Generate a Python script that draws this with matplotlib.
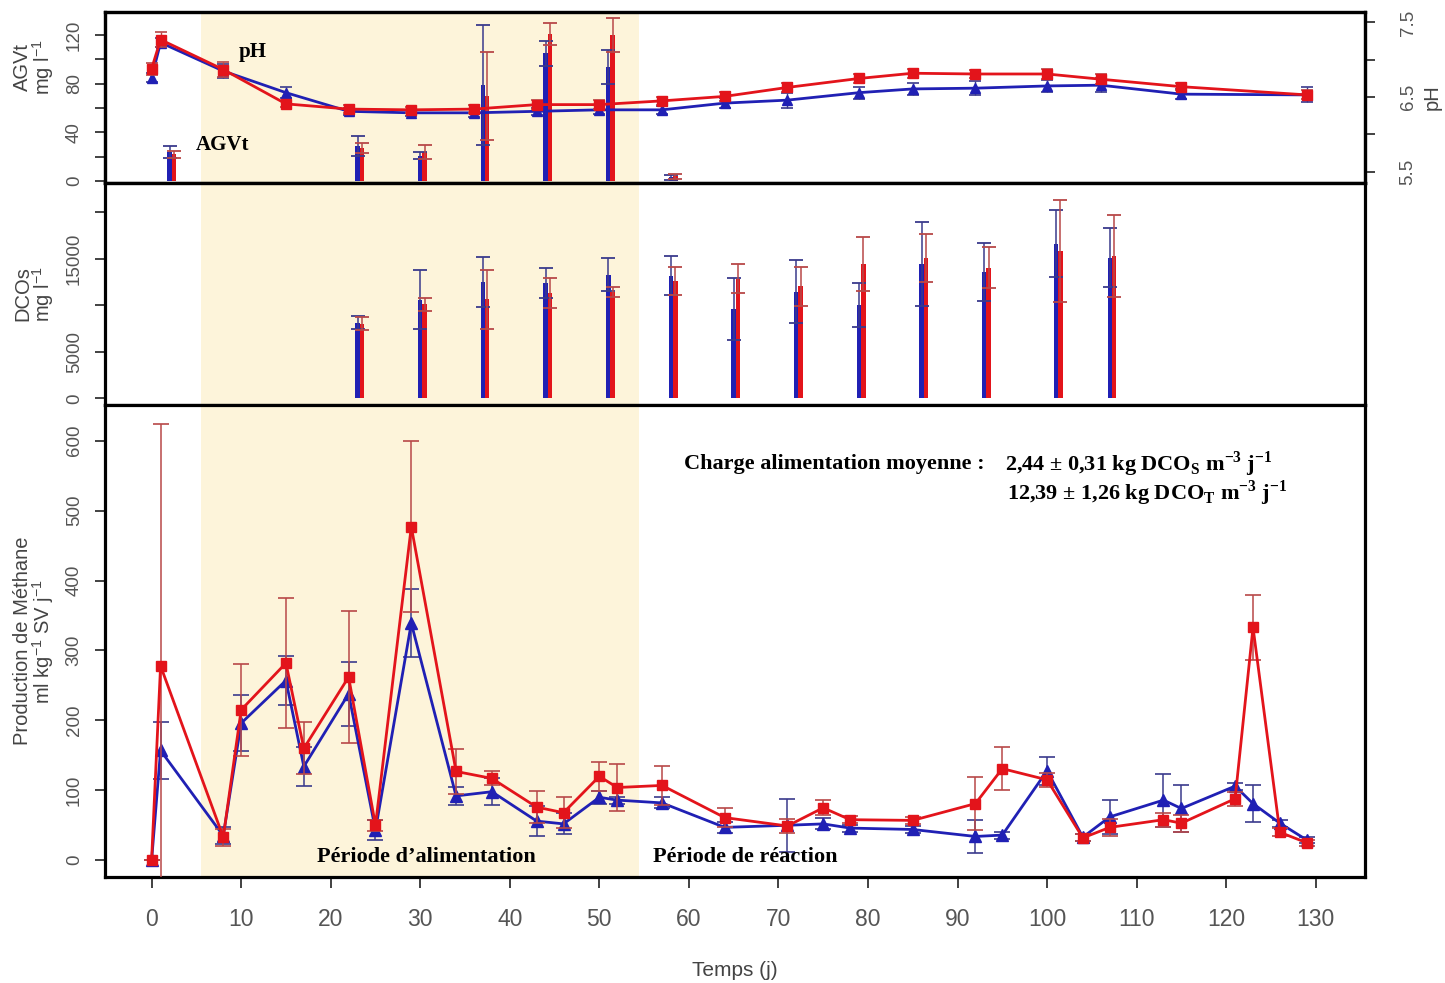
import matplotlib
matplotlib.use('Agg')
import matplotlib.pyplot as plt

plt.rcParams['font.family'] = ['Liberation Sans', 'DejaVu Sans']
plt.rcParams['mathtext.fontset'] = 'custom'
plt.rcParams['mathtext.rm'] = 'Liberation Sans'
plt.rcParams['mathtext.it'] = 'Liberation Sans:italic'
plt.rcParams['mathtext.bf'] = 'Liberation Serif:bold'

# ---------------- data ----------------
# pH (right axis, top panel)
ph_t = [0, 1, 8, 15, 22, 29, 36, 43, 50, 57, 64, 71, 79, 85, 92, 100, 106, 115, 129]
ph_red = [6.88, 7.27, 6.87, 6.41, 6.34, 6.33, 6.34, 6.40, 6.40, 6.45, 6.51, 6.63, 6.75, 6.82, 6.81, 6.81, 6.74, 6.64, 6.53]
ph_red_err = [0.08, 0.10, 0.10, 0.04, 0.05, 0.04, 0.05, 0.06, 0.06, 0.05, 0.06, 0.06, 0.06, 0.06, 0.06, 0.07, 0.07, 0.05, 0.06]
ph_blue = [6.76, 7.23, 6.85, 6.56, 6.31, 6.29, 6.29, 6.31, 6.33, 6.33, 6.42, 6.46, 6.56, 6.61, 6.62, 6.65, 6.66, 6.54, 6.53]
ph_blue_err = [0.06, 0.06, 0.10, 0.07, 0.05, 0.04, 0.05, 0.05, 0.06, 0.05, 0.07, 0.10, 0.08, 0.08, 0.09, 0.08, 0.09, 0.07, 0.10]

# AGVt bars (left axis, top panel)
agv_t = [2, 23, 30, 37, 44, 51, 58]
agv_blue = [24, 29, 21, 79, 105, 94, 3]
agv_blue_err = [5, 8, 3, 49, 10, 14, 2]
agv_red = [22, 27, 24, 70, 121, 120, 4]
agv_red_err = [3, 4, 6, 36, 9, 14, 2]

# DCOs bars (middle panel)
dco_t = [23, 30, 37, 44, 51, 58, 65, 72, 79, 86, 93, 101, 107]
dco_blue = [8100, 10600, 12500, 12400, 13300, 13200, 9600, 11450, 10030, 14450, 13560, 16630, 15100]
dco_blue_err = [700, 3200, 2700, 1600, 1800, 2050, 3300, 3400, 2330, 4500, 3100, 3620, 3170]
dco_red = [8000, 10100, 10650, 11300, 11400, 12650, 12850, 12050, 14430, 15100, 14030, 15820, 15280]
dco_red_err = [700, 700, 3200, 1600, 550, 1500, 1550, 2100, 2900, 2550, 2200, 5500, 4420]

# Methane production (bottom panel)
ch4_t = [0, 1, 8, 10, 15, 17, 22, 25, 29, 34, 38, 43, 46, 50, 52, 57, 64, 71, 75, 78,
         85, 92, 95, 100, 104, 107, 113, 115, 121, 123, 126, 129]
ch4_red = [1, 278, 33, 215, 282, 160, 262, 50, 477, 127, 117, 76, 68, 120, 104, 107, 61, 49, 75, 58,
           57, 81, 131, 115, 32, 47, 58, 53, 88, 333, 40, 25]
ch4_red_err = [0, 346, 12, 66, 93, 37, 95, 8, 122, 32, 10, 23, 22, 21, 33, 28, 14, 10, 11, 5,
               5, 38, 31, 10, 5, 12, 10, 12, 10, 46, 6, 4]
ch4_blue = [0, 157, 35, 196, 257, 134, 238, 43, 339, 92, 98, 56, 52, 90, 86, 82, 47, 50, 52, 46,
            44, 34, 36, 128, 33, 62, 86, 74, 106, 81, 53, 29]
ch4_blue_err = [0, 41, 12, 40, 35, 28, 46, 14, 49, 13, 19, 22, 15, 9, 5, 8, 8, 38, 8, 5,
                5, 24, 5, 20, 5, 24, 38, 33, 5, 27, 5, 4]

feed_period = (5.5, 54.4)
x_ticks = list(range(0, 131, 10))

# ---------------- style ----------------
RED = '#E3141B'
BLUE = '#2020B4'
RED_E = '#B84848'
BLUE_E = '#3A3A8C'
SHADE = '#FDF4DA'
SPINE_LW = 2.3
BAR_OFF = 0.48
BAR_W = 0.5
TXT = '#444444'

fig = plt.figure(figsize=(14.45, 9.83), dpi=100)
L, W = 0.0727, 0.8719
ax_top = fig.add_axes([L, 0.8138, W, 0.1740])
ax_mid = fig.add_axes([L, 0.5880, W, 0.2258])
ax_bot = fig.add_axes([L, 0.1078, W, 0.4802])

for ax in (ax_top, ax_mid, ax_bot):
    ax.set_xlim(-5.2, 135.5)
    ax.axvspan(*feed_period, color=SHADE, zorder=0, lw=0)
    for s in ax.spines.values():
        s.set_linewidth(SPINE_LW)
    ax.tick_params(axis='y', direction='out', length=7, width=1.3, labelsize=13.5,
                   labelrotation=90, pad=9, colors='#333333', labelcolor='#555555')

for ax in (ax_top, ax_mid):
    ax.tick_params(axis='x', bottom=False, labelbottom=False)

ebar_kw = dict(fmt='none', capsize=5, elinewidth=1.1, capthick=1.3, zorder=3)

# --- top panel: AGVt bars ---
ax_top.bar(agv_t, agv_blue, width=BAR_W, color=BLUE, zorder=2)
ax_top.bar([t + BAR_OFF for t in agv_t], agv_red, width=BAR_W, color=RED, zorder=2)
ax_top.errorbar(agv_t, agv_blue, yerr=agv_blue_err, ecolor=BLUE_E, **ebar_kw)
ax_top.errorbar([t + BAR_OFF for t in agv_t], agv_red, yerr=agv_red_err, ecolor=RED_E, **ebar_kw)
ax_top.set_ylim(-1.6, 139)
ax_top.set_yticks([0, 20, 40, 60, 80, 100, 120])
ax_top.set_yticklabels(['0', '', '40', '', '80', '', '120'])
ax_top.set_ylabel('AGVt\nmg l$^{-1}$', fontsize=14.5, color=TXT, linespacing=0.9)
ax_top.yaxis.set_label_coords(-0.039, 0.68)

ax_ph = ax_top.twinx()
ax_ph.set_xlim(-5.2, 135.5)
ax_ph.errorbar(ph_t, ph_blue, yerr=ph_blue_err, color=BLUE, lw=2.0, marker='^', ms=7,
               ecolor=BLUE_E, elinewidth=1.0, capsize=4, capthick=1.2, zorder=4)
ax_ph.errorbar(ph_t, ph_red, yerr=ph_red_err, color=RED, lw=2.0, marker='s', ms=6.5,
               ecolor=RED_E, elinewidth=1.0, capsize=4, capthick=1.2, zorder=5)
ax_ph.set_ylim(5.35, 7.64)
ax_ph.set_yticks([5.5, 6.0, 6.5, 7.0, 7.5])
ax_ph.set_yticklabels(['5.5', '', '6.5', '', '7.5'])
ax_ph.tick_params(axis='y', direction='out', length=7, width=1.3, labelsize=13.5,
                  labelrotation=90, pad=18, colors='#333333', labelcolor='#555555')
for s in ax_ph.spines.values():
    s.set_linewidth(SPINE_LW)
ax_ph.set_ylabel('pH', fontsize=14.5, color=TXT, rotation=90, labelpad=4)

for ax in (ax_top, ax_mid, ax_bot, ax_ph):
    for lab in ax.get_yticklabels():
        lab.set_va('center')

ax_top.text(11.3, 106, 'pH', fontsize=15, family='Liberation Serif', weight='bold',
            ha='center', va='center', zorder=6)
ax_top.text(7.9, 29.6, 'AGVt', fontsize=15, family='Liberation Serif', weight='bold',
            ha='center', va='center', zorder=6)

# --- middle panel: DCOs bars ---
ax_mid.bar(dco_t, dco_blue, width=BAR_W, color=BLUE, zorder=2)
ax_mid.bar([t + BAR_OFF for t in dco_t], dco_red, width=BAR_W, color=RED, zorder=2)
ax_mid.errorbar(dco_t, dco_blue, yerr=dco_blue_err, ecolor=BLUE_E, **ebar_kw)
ax_mid.errorbar([t + BAR_OFF for t in dco_t], dco_red, yerr=dco_red_err, ecolor=RED_E, **ebar_kw)
ax_mid.set_ylim(-720, 23150)
ax_mid.set_yticks([0, 5000, 10000, 15000, 20000])
ax_mid.set_yticklabels(['0', '5000', '', '15000', ''])
for lab in ax_mid.get_yticklabels():
    lab.set_va('center')
ax_mid.set_ylabel('DCOs\nmg l$^{-1}$', fontsize=14.5, color=TXT, linespacing=0.9)
ax_mid.yaxis.set_label_coords(-0.039, 0.5)

# --- bottom panel: methane ---
ax_bot.errorbar(ch4_t, ch4_blue, yerr=ch4_blue_err, color=BLUE, lw=2.0, marker='^', ms=8,
                ecolor=BLUE_E, elinewidth=1.1, capsize=6, capthick=1.2, zorder=4)
ax_bot.errorbar(ch4_t, ch4_red, yerr=ch4_red_err, color=RED, lw=2.0, marker='s', ms=7.5,
                ecolor=RED_E, elinewidth=1.1, capsize=6, capthick=1.2, zorder=5)
ax_bot.set_ylim(-24, 651)
ax_bot.set_yticks([0, 100, 200, 300, 400, 500, 600])
for lab in ax_bot.get_yticklabels():
    lab.set_va('center')
ax_bot.set_ylabel('Production de Méthane\nml kg$^{-1}$ SV j$^{-1}$', fontsize=14.5,
                  color=TXT, linespacing=0.9)
ax_bot.yaxis.set_label_coords(-0.039, 0.5)
ax_bot.set_xticks(x_ticks)
ax_bot.tick_params(axis='x', direction='out', length=8, width=1.3, labelsize=16.5,
                   pad=14, colors='#333333', labelcolor='#555555')
ax_bot.set_xlabel('Temps (j)', fontsize=15, color=TXT, labelpad=22)

serif = dict(family='Liberation Serif', weight='bold', fontsize=16, zorder=6)
ax_bot.text(30.7, 4.3, 'Période d\u2019alimentation', ha='center', va='center', **serif)
ax_bot.text(66.3, 4.3, 'Période de réaction', ha='center', va='center', **serif)
ax_bot.text(59.5, 567, 'Charge alimentation moyenne :', ha='left', va='center', **serif)
ax_bot.text(95.3, 567, r'2,44 ± 0,31 kg DCO$_{\mathbf{S}}$ m$^{\mathbf{-3}}$ j$^{\mathbf{-1}}$',
            ha='left', va='center', **serif)
ax_bot.text(95.5, 525, r'12,39 ± 1,26 kg DCO$_{\mathbf{T}}$ m$^{\mathbf{-3}}$ j$^{\mathbf{-1}}$',
            ha='left', va='center', **serif)

fig.savefig('out.png', dpi=100, facecolor='white')
